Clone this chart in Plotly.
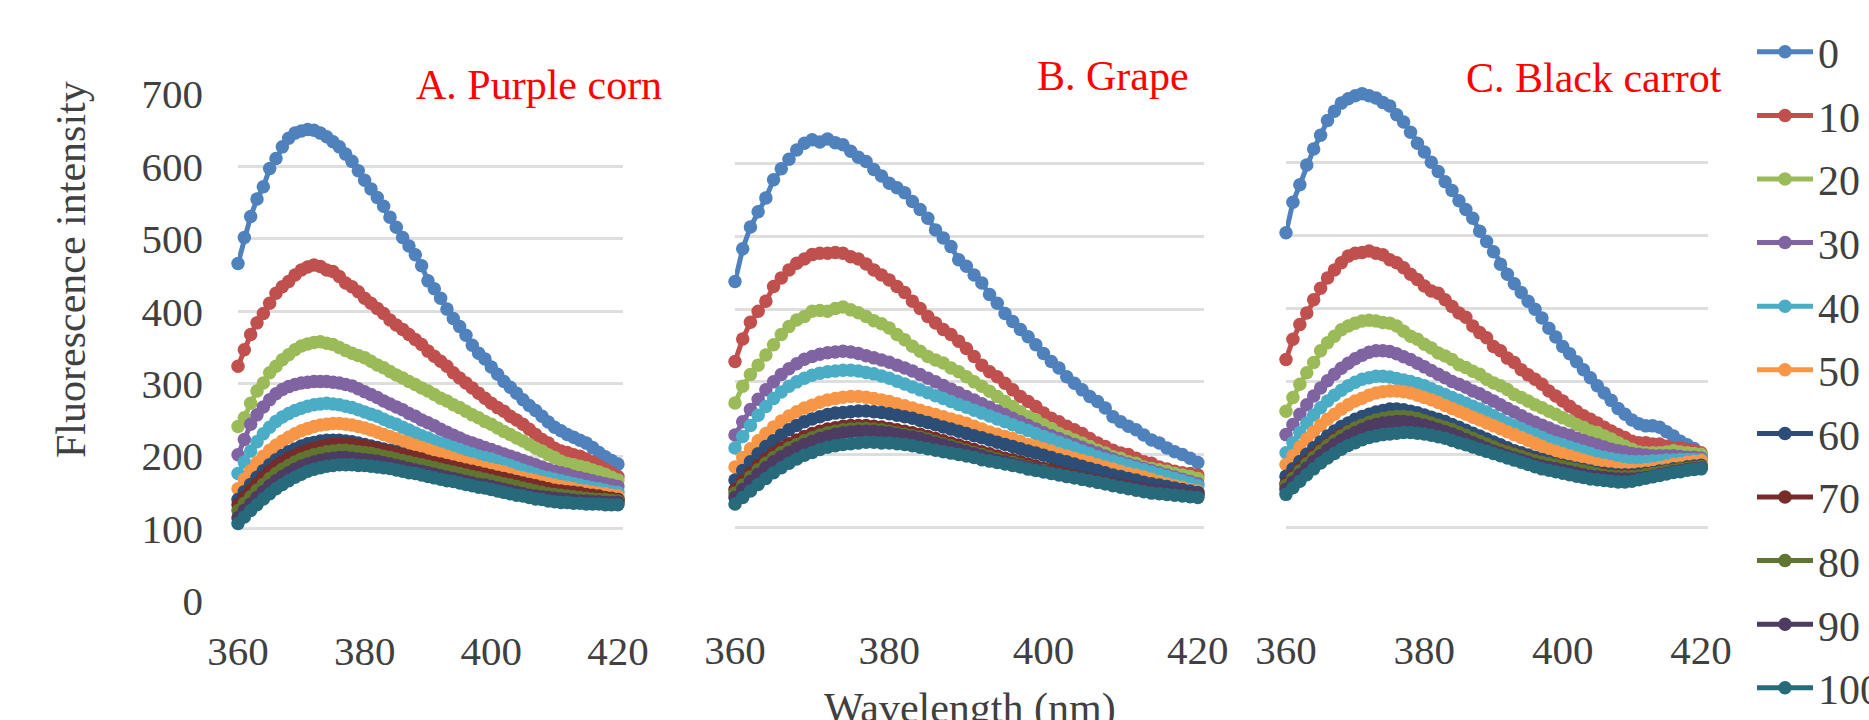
import plotly.graph_objects as go

# ---------------- data ----------------
WAVELENGTH = list(range(360, 421))  # nm, 1 nm step
SERIES_NAMES = ["0", "10", "20", "30", "40", "50", "60", "70", "80", "90", "100"]
PANEL_TITLES = ["A. Purple corn", "B. Grape", "C. Black carrot"]
X_TICKS = [360, 380, 400, 420]
Y_TICKS = [0, 100, 200, 300, 400, 500, 600, 700]
X_TITLE = "Wavelength (nm)"
Y_TITLE = "Fluorescence intensity"

# Panel A - Purple corn
corn_0 = [466, 502, 531, 555, 572, 597, 611, 627, 639, 646, 649, 651, 650, 646, 641, 634, 627, 617, 607, 594,
          581, 569, 557, 545, 530, 516, 502, 490, 478, 463, 442, 431, 418, 403, 390, 379, 367, 353, 342, 334,
          323, 313, 303, 295, 287, 278, 270, 263, 255, 247, 240, 235, 230, 226, 222, 218, 212, 205, 199, 194, 189]
corn_10 = [324, 347, 368, 384, 397, 411, 425, 434, 441, 450, 457, 461, 464, 462, 457, 455, 448, 439, 434, 427,
           418, 411, 404, 397, 388, 381, 375, 368, 361, 354, 345, 338, 331, 324, 315, 308, 301, 294, 287, 280,
           273, 267, 262, 255, 250, 244, 237, 230, 223, 218, 211, 207, 205, 202, 200, 196, 192, 187, 182, 177, 172]
corn_20 = [241, 253, 273, 290, 301, 315, 324, 333, 340, 347, 352, 355, 357, 358, 356, 354, 350, 346, 342, 339,
           336, 331, 326, 322, 317, 312, 308, 303, 299, 294, 290, 285, 280, 276, 271, 267, 262, 257, 253, 248,
           244, 239, 234, 230, 225, 221, 216, 211, 207, 202, 198, 193, 190, 188, 186, 184, 181, 178, 175, 171, 167]
corn_30 = [202, 223, 244, 257, 268, 278, 286, 292, 296, 299, 301, 302, 303, 303, 303, 302, 301, 299, 297, 293,
           289, 285, 281, 276, 272, 268, 264, 259, 255, 250, 246, 242, 237, 233, 229, 225, 221, 218, 215, 212,
           209, 206, 203, 200, 197, 194, 191, 188, 185, 182, 179, 177, 175, 172, 170, 168, 166, 164, 162, 160, 158]
corn_40 = [176, 192, 207, 220, 231, 240, 248, 254, 259, 263, 266, 269, 271, 272, 273, 272, 271, 269, 267, 264,
           261, 258, 255, 251, 247, 244, 240, 236, 232, 228, 225, 221, 218, 215, 212, 209, 206, 203, 200, 198,
           196, 193, 190, 187, 184, 181, 178, 175, 172, 170, 168, 166, 164, 162, 160, 158, 156, 155, 153, 151, 150]
corn_50 = [155, 168, 180, 191, 200, 208, 215, 221, 226, 231, 235, 238, 241, 243, 244, 245, 245, 244, 243, 241,
           239, 236, 233, 230, 227, 224, 221, 218, 215, 212, 209, 206, 203, 200, 197, 194, 191, 189, 186, 184,
           182, 180, 178, 175, 172, 170, 168, 166, 164, 162, 160, 158, 157, 155, 153, 152, 150, 149, 148, 146, 145]
corn_60 = [140, 151, 161, 171, 180, 188, 195, 201, 206, 210, 214, 217, 219, 221, 222, 222, 222, 221, 220, 218,
           216, 214, 212, 210, 208, 206, 203, 200, 197, 194, 192, 190, 188, 186, 184, 181, 178, 176, 174, 172,
           170, 168, 166, 164, 162, 160, 158, 156, 154, 152, 150, 149, 148, 147, 146, 145, 144, 143, 142, 141, 140]
corn_70 = [133, 143, 153, 162, 171, 179, 186, 192, 197, 201, 205, 208, 211, 213, 215, 216, 217, 217, 216, 215,
           214, 212, 210, 208, 206, 204, 202, 200, 198, 196, 193, 191, 189, 187, 185, 183, 181, 179, 177, 175,
           173, 171, 169, 167, 165, 163, 161, 159, 157, 155, 153, 152, 151, 150, 149, 147, 146, 145, 143, 142, 140]
corn_80 = [125, 135, 144, 153, 161, 169, 176, 182, 187, 192, 196, 199, 202, 204, 206, 207, 208, 208, 207, 206,
           205, 204, 202, 200, 198, 196, 194, 192, 190, 188, 186, 184, 182, 180, 178, 176, 174, 172, 170, 168,
           166, 164, 162, 160, 158, 156, 154, 152, 150, 148, 147, 146, 145, 144, 143, 142, 141, 140, 140, 139, 138]
corn_90 = [115, 125, 134, 143, 151, 159, 166, 172, 177, 182, 186, 189, 192, 194, 196, 197, 198, 198, 197, 196,
           195, 194, 193, 191, 189, 187, 185, 183, 181, 179, 177, 175, 173, 171, 169, 167, 165, 163, 161, 160,
           158, 156, 154, 152, 150, 148, 146, 145, 144, 143, 142, 141, 140, 139, 138, 138, 137, 137, 136, 136, 136]
corn_100 = [107, 116, 125, 133, 141, 148, 155, 161, 166, 171, 175, 179, 182, 184, 186, 187, 188, 188, 188, 187,
            187, 186, 185, 184, 183, 181, 179, 177, 176, 174, 172, 170, 168, 166, 165, 163, 161, 159, 157, 156,
            154, 152, 150, 148, 146, 145, 143, 141, 140, 138, 137, 136, 136, 135, 135, 134, 134, 134, 133, 133, 133]

# Panel B - Grape
grape_0 = [438, 483, 513, 534, 553, 578, 593, 606, 619, 628, 633, 630, 634, 629, 626, 617, 609, 603, 592, 583,
           573, 567, 560, 548, 537, 525, 509, 498, 486, 468, 459, 447, 436, 420, 408, 394, 383, 372, 362, 351,
           339, 328, 319, 307, 298, 289, 280, 273, 264, 252, 245, 239, 234, 227, 220, 216, 209, 204, 200, 195, 189]
grape_10 = [328, 359, 382, 397, 411, 431, 443, 454, 463, 469, 475, 477, 477, 478, 477, 472, 469, 462, 454, 447,
            440, 431, 423, 411, 401, 390, 381, 372, 365, 356, 346, 335, 323, 314, 307, 298, 289, 280, 273, 266,
            257, 250, 245, 239, 234, 229, 222, 216, 211, 206, 202, 200, 195, 190, 188, 183, 180, 177, 175, 174, 172]
grape_20 = [271, 294, 310, 323, 337, 351, 365, 376, 385, 390, 397, 398, 397, 401, 403, 399, 395, 390, 384, 380,
            374, 365, 358, 349, 342, 335, 330, 326, 319, 314, 307, 300, 294, 287, 280, 273, 266, 259, 252, 248,
            241, 236, 229, 225, 220, 216, 211, 206, 202, 197, 195, 190, 188, 183, 181, 179, 177, 174, 172, 170, 167]
grape_30 = [227, 245, 262, 276, 289, 300, 310, 318, 325, 331, 335, 338, 340, 341, 342, 341, 339, 336, 333, 330,
            327, 323, 319, 315, 310, 305, 300, 295, 290, 285, 280, 275, 270, 265, 260, 255, 250, 245, 240, 235,
            230, 226, 222, 218, 214, 210, 206, 202, 198, 194, 190, 187, 184, 181, 178, 175, 172, 169, 166, 163, 160]
grape_40 = [209, 225, 240, 254, 266, 277, 286, 294, 300, 305, 309, 312, 314, 315, 316, 316, 315, 313, 311, 308,
            305, 301, 297, 293, 289, 285, 281, 277, 273, 269, 265, 261, 257, 253, 249, 245, 241, 237, 233, 229,
            225, 221, 217, 213, 209, 205, 201, 197, 194, 191, 188, 185, 182, 179, 176, 173, 170, 167, 164, 161, 157]
grape_50 = [183, 196, 208, 219, 229, 238, 246, 253, 259, 264, 268, 272, 275, 277, 279, 280, 280, 279, 277, 275,
            273, 270, 267, 264, 261, 258, 255, 252, 249, 246, 243, 239, 235, 231, 228, 225, 222, 218, 214, 211,
            208, 205, 201, 198, 195, 192, 189, 186, 183, 180, 177, 174, 172, 169, 166, 163, 160, 157, 155, 152, 150]
grape_60 = [165, 178, 190, 201, 211, 219, 227, 234, 240, 245, 249, 252, 255, 257, 258, 259, 260, 260, 259, 258,
            256, 254, 252, 250, 247, 244, 241, 238, 235, 232, 229, 226, 223, 220, 217, 214, 211, 208, 205, 202,
            199, 196, 193, 190, 187, 184, 181, 178, 175, 172, 170, 167, 165, 162, 160, 158, 156, 154, 152, 150, 148]
grape_70 = [152, 164, 175, 185, 194, 202, 209, 215, 220, 225, 229, 232, 235, 237, 239, 240, 240, 240, 239, 238,
            236, 234, 232, 230, 228, 225, 222, 219, 216, 213, 210, 207, 204, 201, 198, 195, 193, 190, 187, 184,
            181, 179, 176, 173, 171, 168, 166, 164, 162, 160, 158, 156, 154, 153, 151, 150, 149, 148, 147, 146, 145]
grape_80 = [147, 158, 169, 179, 188, 196, 203, 209, 214, 219, 223, 227, 230, 232, 234, 235, 236, 236, 235, 234,
            232, 230, 228, 226, 224, 221, 218, 215, 212, 209, 206, 203, 200, 197, 194, 191, 189, 186, 183, 180,
            178, 175, 173, 170, 168, 166, 164, 162, 160, 158, 156, 154, 152, 151, 150, 149, 148, 147, 146, 144, 143]
grape_90 = [141, 152, 163, 173, 182, 190, 197, 203, 209, 214, 218, 222, 225, 228, 230, 231, 232, 232, 232, 231,
            230, 228, 226, 224, 222, 219, 216, 213, 210, 207, 204, 201, 198, 195, 192, 190, 187, 185, 182, 180,
            177, 175, 173, 171, 169, 167, 165, 163, 161, 159, 157, 155, 154, 152, 151, 150, 149, 148, 147, 146, 146]
grape_100 = [132, 141, 150, 159, 167, 175, 182, 188, 194, 199, 203, 207, 210, 212, 214, 215, 216, 217, 217, 216,
             216, 215, 214, 212, 210, 208, 206, 204, 202, 200, 198, 196, 193, 191, 189, 187, 185, 183, 180, 178,
             176, 174, 172, 170, 168, 166, 164, 162, 160, 157, 155, 153, 151, 149, 147, 146, 145, 144, 143, 142, 141]

# Panel C - Black carrot
carrot_0 = [504, 546, 570, 597, 619, 638, 658, 671, 682, 688, 692, 695, 692, 689, 683, 678, 666, 656, 642, 627,
            615, 601, 588, 574, 562, 548, 536, 524, 506, 492, 478, 461, 447, 434, 422, 410, 399, 387, 373, 361,
            348, 338, 327, 316, 305, 294, 284, 274, 263, 255, 247, 242, 239, 239, 237, 231, 225, 218, 213, 208, 200]
carrot_10 = [330, 358, 378, 394, 412, 428, 442, 453, 463, 472, 476, 477, 479, 476, 474, 467, 463, 456, 447, 440,
             431, 424, 421, 412, 403, 394, 388, 376, 367, 360, 348, 342, 332, 326, 316, 309, 303, 296, 287, 280,
             273, 266, 259, 253, 248, 243, 237, 232, 227, 223, 218, 216, 216, 214, 214, 211, 209, 209, 207, 205, 202]
carrot_20 = [259, 278, 296, 312, 326, 342, 353, 362, 371, 376, 380, 383, 384, 383, 381, 380, 376, 369, 362, 358,
             351, 346, 339, 335, 330, 323, 319, 314, 310, 303, 298, 294, 289, 282, 278, 273, 268, 264, 259, 255,
             250, 246, 241, 237, 232, 230, 225, 221, 216, 211, 207, 203, 202, 202, 202, 203, 205, 203, 202, 201, 200]
carrot_30 = [227, 241, 255, 268, 280, 291, 301, 310, 318, 325, 331, 336, 340, 342, 342, 341, 338, 334, 330, 325,
             320, 315, 310, 305, 300, 296, 292, 287, 283, 278, 273, 268, 263, 258, 253, 248, 244, 240, 236, 232,
             229, 226, 222, 219, 216, 213, 210, 207, 205, 203, 201, 200, 199, 198, 198, 198, 198, 197, 196, 196, 195]
carrot_40 = [202, 216, 230, 243, 254, 264, 273, 281, 288, 294, 299, 303, 305, 307, 307, 306, 304, 302, 300, 297,
             294, 290, 286, 282, 278, 274, 270, 266, 262, 258, 253, 248, 243, 239, 235, 231, 227, 223, 219, 216,
             213, 210, 207, 204, 201, 198, 196, 194, 192, 191, 190, 190, 190, 191, 191, 192, 192, 193, 193, 193, 193]
carrot_50 = [186, 198, 210, 221, 231, 240, 248, 255, 262, 268, 273, 277, 281, 284, 286, 287, 287, 286, 284, 281,
             278, 275, 271, 267, 263, 259, 255, 251, 247, 243, 239, 235, 231, 227, 223, 219, 215, 211, 207, 204,
             201, 198, 195, 192, 189, 187, 185, 183, 181, 179, 178, 178, 179, 180, 182, 184, 186, 187, 189, 190, 191]
carrot_60 = [170, 180, 190, 200, 209, 217, 225, 232, 238, 243, 248, 252, 255, 258, 260, 262, 262, 261, 259, 257,
             254, 251, 248, 245, 241, 237, 233, 229, 225, 221, 217, 213, 209, 205, 202, 199, 196, 193, 190, 187,
             185, 183, 181, 179, 177, 175, 174, 173, 172, 172, 172, 173, 174, 175, 177, 178, 180, 181, 183, 184, 185]
carrot_70 = [160, 170, 180, 190, 199, 207, 214, 221, 227, 232, 236, 240, 243, 246, 248, 249, 250, 250, 249, 247,
             245, 242, 239, 236, 233, 229, 225, 221, 217, 213, 210, 207, 204, 201, 198, 195, 192, 189, 187, 185,
             183, 181, 179, 177, 175, 173, 172, 171, 170, 170, 170, 171, 172, 174, 175, 177, 178, 180, 181, 182, 183]
carrot_80 = [157, 167, 177, 187, 196, 204, 212, 219, 225, 231, 236, 240, 244, 247, 249, 251, 252, 252, 251, 249,
             246, 243, 240, 237, 234, 230, 226, 222, 218, 214, 210, 206, 203, 200, 197, 194, 191, 189, 187, 185,
             183, 181, 179, 177, 175, 173, 171, 170, 169, 169, 169, 170, 172, 174, 175, 177, 178, 180, 181, 182, 183]
carrot_90 = [152, 162, 172, 181, 190, 198, 206, 213, 219, 225, 230, 234, 238, 241, 243, 244, 245, 245, 244, 242,
             240, 237, 234, 231, 228, 224, 220, 216, 212, 208, 204, 201, 198, 195, 192, 189, 186, 184, 182, 180,
             178, 176, 174, 172, 170, 169, 168, 167, 166, 166, 166, 167, 168, 170, 172, 174, 176, 177, 179, 180, 181]
carrot_100 = [145, 154, 163, 172, 180, 188, 195, 201, 207, 212, 216, 220, 223, 225, 227, 228, 229, 230, 230, 229,
              228, 226, 224, 222, 219, 216, 213, 210, 207, 204, 201, 198, 195, 192, 189, 186, 183, 180, 178, 176,
              174, 172, 170, 168, 166, 165, 164, 163, 162, 162, 163, 165, 167, 169, 171, 173, 175, 176, 178, 179, 180]

PANELS = [
    [corn_0, corn_10, corn_20, corn_30, corn_40, corn_50, corn_60, corn_70, corn_80, corn_90, corn_100],
    [grape_0, grape_10, grape_20, grape_30, grape_40, grape_50, grape_60, grape_70, grape_80, grape_90, grape_100],
    [carrot_0, carrot_10, carrot_20, carrot_30, carrot_40, carrot_50, carrot_60, carrot_70, carrot_80, carrot_90, carrot_100],
]
for panel in PANELS:
    for s in panel:
        assert len(s) == len(WAVELENGTH), len(s)

# ---------------- style ----------------
COLORS = ["#4F81BD", "#C0504D", "#9BBB59", "#8064A2", "#4BACC6", "#F79646",
          "#2C4D75", "#772C2A", "#5F7530", "#4D3B62", "#276A7C"]
FONT = "Liberation Serif, Times New Roman, serif"
TEXT_COLOR = "#404040"
W, H = 1869, 720

# panel pixel boxes: (left, right, top, bottom) and x max
BOXES = [(238, 623, 94, 601, 420.8), (735, 1204, 91, 600, 420.8), (1286, 1708, 90, 600, 421.0)]
TITLE_POS = [(539, 85), (1113, 76), (1594, 78)]

fig = go.Figure()
for p, panel in enumerate(PANELS):
    xa = "x" if p == 0 else f"x{p + 1}"
    ya = "y" if p == 0 else f"y{p + 1}"
    for k, vals in enumerate(panel):
        fig.add_trace(go.Scatter(
            x=WAVELENGTH, y=vals, name=SERIES_NAMES[k], mode="lines+markers",
            xaxis=xa, yaxis=ya, legendgroup=SERIES_NAMES[k], showlegend=(p == 0),
            line=dict(color=COLORS[k], width=5),
            marker=dict(color=COLORS[k], size=13.5, line=dict(width=0)),
            cliponaxis=False,
        ))

layout = dict(
    width=W, height=H, margin=dict(l=0, r=0, t=0, b=0, autoexpand=False),
    paper_bgcolor="white", plot_bgcolor="white",
    font=dict(family=FONT, color=TEXT_COLOR, size=41),
    legend=dict(x=1752 / W, xanchor="left", y=1 - 18 / H, yanchor="top",
                font=dict(family=FONT, size=42, color=TEXT_COLOR),
                tracegroupgap=6, itemwidth=56, bgcolor="rgba(0,0,0,0)",
                maxheight=900),
    annotations=[],
)
for p, (l, r, t, b, xmax) in enumerate(BOXES):
    suf = "" if p == 0 else str(p + 1)
    layout["xaxis" + suf] = dict(
        domain=[l / W, r / W], range=[360, xmax], anchor="y" + suf,
        tickvals=X_TICKS, ticktext=[str(v) for v in X_TICKS],
        showgrid=False, zeroline=False, showline=False, ticks="",
        tickfont=dict(family=FONT, size=41, color=TEXT_COLOR), ticklabelstandoff=22,
        automargin=False,
    )
    layout["yaxis" + suf] = dict(
        domain=[1 - b / H, 1 - t / H], range=[0, 700], anchor="x" + suf,
        tickvals=Y_TICKS, showticklabels=(p == 0),
        showgrid=True, gridcolor="#DEDEDE", gridwidth=2.5,
        zeroline=False, showline=False, ticks="",
        tickfont=dict(family=FONT, size=41, color=TEXT_COLOR), ticklabelstandoff=34,
        automargin=False,
    )
    cx, cy = TITLE_POS[p]
    layout["annotations"].append(dict(
        text=PANEL_TITLES[p], x=cx / W, y=1 - cy / H, xref="paper", yref="paper",
        xanchor="center", yanchor="middle", showarrow=False,
        font=dict(family=FONT, size=42, color="#FF0000"),
        bgcolor="white", borderpad=18,
    ))

layout["annotations"].append(dict(
    text=Y_TITLE, x=71 / W, y=1 - 270 / H, xref="paper", yref="paper", textangle=-90,
    xanchor="center", yanchor="middle", showarrow=False,
    font=dict(family=FONT, size=42, color=TEXT_COLOR)))
layout["annotations"].append(dict(
    text=X_TITLE, x=970 / W, y=1 - 708 / H, xref="paper", yref="paper",
    xanchor="center", yanchor="middle", showarrow=False,
    font=dict(family=FONT, size=42, color=TEXT_COLOR)))

fig.update_layout(**layout)
fig.write_html("out.html", config={"displayModeBar": False},
               post_script="document.body.style.margin='0';document.body.style.overflow='hidden';")
